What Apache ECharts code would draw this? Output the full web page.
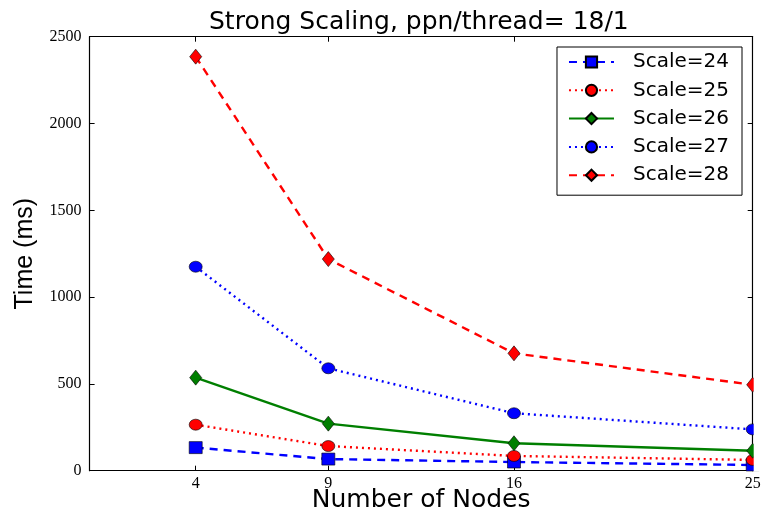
<!DOCTYPE html>
<html>
<head>
<meta charset="utf-8">
<script src="https://cdn.jsdelivr.net/npm/echarts@6/dist/echarts.min.js"></script>
<style>html,body{margin:0;padding:0;background:#fff}#c{width:761px;height:515px}</style>
</head>
<body>
<div id="c"></div>
<script>
const nodes = [4, 9, 16, 25];
const xTickValues = [4, 9, 16, 25];
const yTickValues = [0, 500, 1000, 1500, 2000, 2500];
const seriesNames = ['Scale=24', 'Scale=25', 'Scale=26', 'Scale=27', 'Scale=28'];
const scale24 = [133, 67, 50, 33];
const scale25 = [265, 142, 85, 62];
const scale26 = [536, 271, 158, 115];
const scale27 = [1175, 590, 331, 238];
const scale28 = [2385, 1219, 676, 495];

const chart = echarts.init(document.getElementById('c'), null, {renderer: 'canvas'});
const pts = arr => nodes.map((x, i) => [x, arr[i]]);
const BLUE = '#0000ff', RED = '#ff0000', GREEN = '#007f00';
const mk = (name, data, color, lineType, symbol, size) => ({
  name, type: 'line', data: pts(data), xAxisIndex: 0, yAxisIndex: 0,
  symbol, symbolSize: size, showSymbol: true, clip: false,
  lineStyle: {color, width: 2.4, type: lineType},
  itemStyle: {color, borderColor: '#000', borderWidth: 0.6},
  emphasis: {disabled: true}
});
const sans = 'DejaVu Sans';
const option = {
  animation: false,
  backgroundColor: '#fff',
  title: {
    text: 'Strong Scaling, ppn/thread= 18/1',
    left: 204, top: 5,
    textStyle: {fontFamily: sans, fontSize: 25, fontWeight: 'normal', color: '#000'}
  },
  grid: {left: 89.6, right: 8.3, top: 36.7, bottom: 44.3, show: false, containLabel: false, outerBoundsMode: 'none'},
  legend: {
    right: 19, top: 47, orient: 'vertical',
    data: seriesNames,
    itemWidth: 45, itemHeight: 14, itemGap: 8.3,
    padding: [5, 13, 10, 11],
    borderColor: '#000', borderWidth: 1, backgroundColor: '#fff',
    textStyle: {fontFamily: sans, fontSize: 20, color: '#000', lineHeight: 20, padding: [0, 0, 0, 14]}
  },
  xAxis: [{
    type: 'value', min: 0, max: 25, position: 'bottom',
    name: 'Number of Nodes', nameLocation: 'middle', nameGap: 17, nameMoveOverlap: false,
    nameTextStyle: {fontFamily: sans, fontSize: 25, color: '#000'},
    axisLine: {show: true, lineStyle: {color: '#000', width: 1.2}},
    axisTick: {show: true, inside: true, length: 5, customValues: xTickValues, lineStyle: {color: '#000'}},
    axisLabel: {customValues: xTickValues, fontFamily: 'Liberation Serif', fontSize: 16, color: '#000', margin: 5, formatter: v => String(v)},
    splitLine: {show: false}
  }, {
    type: 'value', min: 0, max: 25, position: 'top',
    axisLine: {show: true, onZero: false, lineStyle: {color: '#000', width: 1.2}},
    axisTick: {show: true, inside: true, length: 5, customValues: xTickValues, lineStyle: {color: '#000'}},
    axisLabel: {show: false}, splitLine: {show: false}
  }],
  yAxis: [{
    type: 'value', min: 0, max: 2500, interval: 500, position: 'left',
    name: 'Time (ms)', nameLocation: 'middle', nameGap: 52, nameRotate: 90, nameMoveOverlap: false,
    nameTextStyle: {fontFamily: 'Liberation Sans', fontSize: 25, color: '#000'},
    axisLine: {show: true, onZero: false, lineStyle: {color: '#000', width: 1.2}},
    axisTick: {show: true, inside: true, length: 5, customValues: yTickValues, lineStyle: {color: '#000'}},
    axisLabel: {customValues: yTickValues, fontFamily: 'Liberation Serif', fontSize: 16, color: '#000', margin: 8, formatter: v => String(v)},
    splitLine: {show: false}
  }, {
    type: 'value', min: 0, max: 2500, interval: 500, position: 'right',
    axisLine: {show: true, onZero: false, lineStyle: {color: '#000', width: 1.2}},
    axisTick: {show: true, inside: true, length: 5, lineStyle: {color: '#000'}},
    axisLabel: {show: false}, splitLine: {show: false}
  }],
  series: [
    mk(seriesNames[0], scale24, BLUE, [8, 6], 'rect', [13, 12]),
    mk(seriesNames[1], scale25, RED, [2, 4], 'circle', [13, 11]),
    mk(seriesNames[2], scale26, GREEN, 'solid', 'diamond', [12, 15]),
    mk(seriesNames[3], scale27, BLUE, [2, 4], 'circle', [13, 11]),
    mk(seriesNames[4], scale28, RED, [8, 6], 'diamond', [12, 15])
  ]
};
chart.setOption(option);
// mask markers beyond right spine (matplotlib clips at axes)
const xr = chart.convertToPixel({xAxisIndex: 0}, 25);
const yt = chart.convertToPixel({yAxisIndex: 0}, 2500);
const yb = chart.convertToPixel({yAxisIndex: 0}, 0);
chart.setOption({graphic: [{type: 'rect', z: 100, shape: {x: xr + 1, y: yt - 2, width: 20, height: yb - yt + 3}, style: {fill: '#fff'}}]});
</script>
</body>
</html>
